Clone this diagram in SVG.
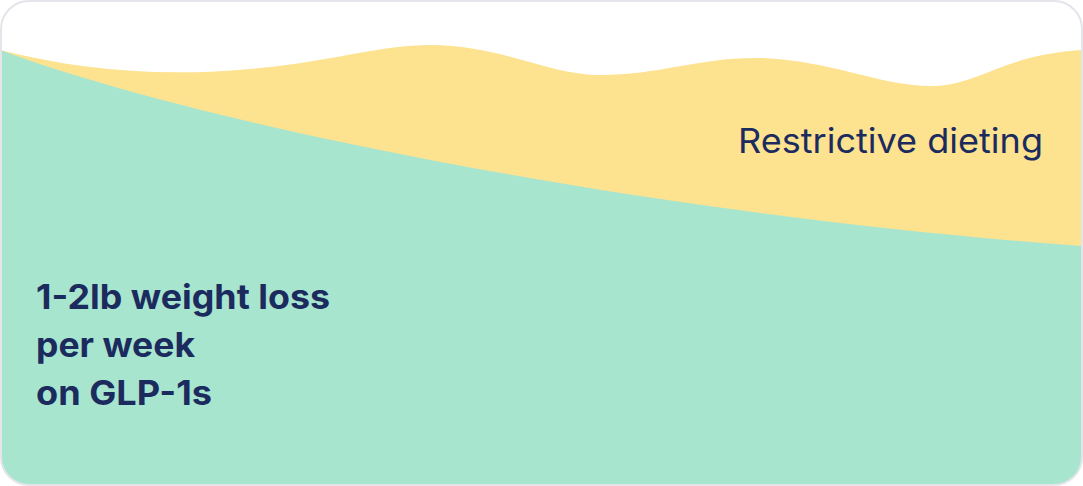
<svg xmlns="http://www.w3.org/2000/svg" width="1083" height="486" viewBox="0 0 1083 486">
<defs><clipPath id="c"><rect x="1" y="1" width="1081" height="484" rx="28"/></clipPath></defs>
<style>.t{font-family:Inter,"Liberation Sans",sans-serif;fill:#1c2b5e}</style>
<rect x="0" y="0" width="1083" height="486" fill="#fff"/>
<g clip-path="url(#c)">
<path d="M0,50 C80,70 160,78 260,68 C340,60 380,45 430,45 C500,45 550,75 600,75 C660,75 700,57 760,58 C830,60 880,86 930,86 C980,86 1000,55 1083,50 L1083,486 L0,486 Z" fill="#fde290"/>
<path d="M0,50 C200,125 650,215 1083,246 L1083,486 L0,486 Z" fill="#a8e5cf"/>
</g>
<rect x="1" y="1" width="1081" height="484" rx="28" fill="none" stroke="#e3e5ea" stroke-width="2"/>
<text class="t" x="738" y="153" font-size="34" textLength="305" lengthAdjust="spacingAndGlyphs">Restrictive dieting</text>
<g class="t" font-size="34" font-weight="700">
<text x="36" y="309" textLength="294" lengthAdjust="spacingAndGlyphs">1-2lb weight loss</text>
<text x="36" y="357" textLength="159" lengthAdjust="spacingAndGlyphs">per week</text>
<text x="36" y="405" textLength="176" lengthAdjust="spacingAndGlyphs">on GLP-1s</text>
</g>
</svg>
